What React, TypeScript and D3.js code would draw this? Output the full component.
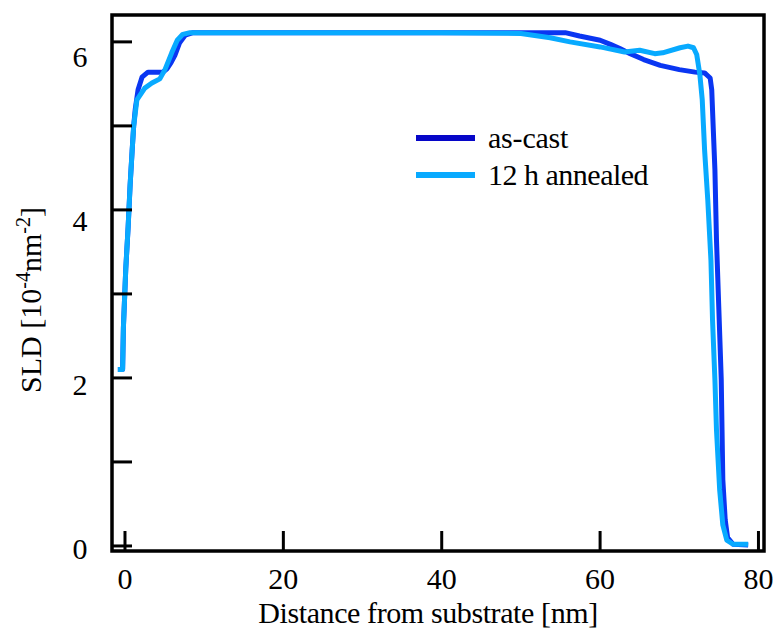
import React from "react";
import * as d3 from "d3";

// Scattering length density profiles, distance from substrate in nm, SLD in 1e-4 nm^-2
const asCastX = [-0.9, -0.3, -0.2, 0.1, 0.4, 0.65, 0.9, 1.1, 1.3, 1.65, 2.15, 2.9, 4.8, 5.3, 5.8, 6.3, 6.9, 7.6, 8.6, 20, 40, 50, 55.6, 57.4, 60.0, 61.3, 62.5, 63.8, 65.5, 67.6, 70.0, 72.0, 73.2, 73.9, 74.1, 74.3, 74.5, 74.7, 75.0, 75.3, 75.4, 75.5, 75.8, 76.1, 76.8, 78.7];
const asCastY = [2.1, 2.1, 2.6, 3.3, 3.8, 4.3, 4.7, 5.0, 5.2, 5.43, 5.58, 5.64, 5.64, 5.68, 5.75, 5.84, 5.99, 6.08, 6.11, 6.11, 6.11, 6.11, 6.11, 6.07, 6.02, 5.97, 5.92, 5.86, 5.79, 5.72, 5.67, 5.64, 5.63, 5.57, 5.43, 4.95, 4.48, 3.64, 2.81, 1.98, 1.38, 0.79, 0.31, 0.10, 0.02, 0.01];

const annealedX = [-0.9, -0.3, -0.2, 0.1, 0.4, 0.65, 0.9, 1.1, 1.5, 2.5, 3.4, 4.4, 5.05, 5.9, 6.6, 7.3, 8.2, 20, 40, 50, 53.7, 56.2, 60.0, 63.1, 65.0, 66.9, 67.9, 70.1, 71.1, 71.8, 72.2, 72.6, 72.9, 73.2, 73.6, 74.0, 74.2, 74.5, 74.7, 75.1, 75.5, 76.0, 76.8, 78.7];
const annealedY = [2.1, 2.1, 2.6, 3.3, 3.8, 4.3, 4.7, 5.0, 5.31, 5.45, 5.51, 5.56, 5.67, 5.87, 6.02, 6.09, 6.11, 6.11, 6.11, 6.10, 6.05, 6.0, 5.94, 5.88, 5.90, 5.86, 5.87, 5.93, 5.95, 5.93, 5.85, 5.61, 5.31, 4.71, 4.12, 3.40, 2.69, 1.98, 1.38, 0.67, 0.25, 0.07, 0.02, 0.02];

const seriesNames = ["as-cast", "12 h annealed"];
const xTicks = [0, 20, 40, 60, 80];
const yTicks = [0, 1, 2, 3, 4, 5, 6];
const yTickLabels = [0, 2, 4, 6];

const W = 774;
const H = 632;
const frame = { left: 112, top: 15, right: 764, bottom: 551 };
const FONT = "'Liberation Serif', 'Times New Roman', serif";
const FS = 30;
const lineColor = "#0a36f2";
const legendDark = "#0606c8";
const lightColor = "#08aaff";

export default function App() {
  const x = d3.scaleLinear().domain([-1.64, 80.7]).range([frame.left, frame.right]);
  const y = d3.scaleLinear().domain([-0.06, 6.32]).range([frame.bottom, frame.top]);
  // baseline positions of the y tick labels
  const yLabel = d3.scaleLinear().domain([0, 6]).range([559, 67]);

  const line = d3
    .line<[number, number]>()
    .x((d) => x(d[0]))
    .y((d) => y(d[1]))
    .curve(d3.curveLinear);

  const asCast: [number, number][] = asCastX.map((v, i) => [v, asCastY[i]]);
  const annealed: [number, number][] = annealedX.map((v, i) => [v, annealedY[i]]);

  const tickLen = 20;

  return (
    <svg
      width={W}
      height={H}
      style={{ position: "absolute", left: 0, top: 0, background: "#fff" }}
      fontFamily={FONT}
    >
      <defs>
        <clipPath id="plotClip">
          <rect x={frame.left} y={frame.top} width={frame.right - frame.left} height={frame.bottom - frame.top} />
        </clipPath>
      </defs>

      {/* curves */}
      <g clipPath="url(#plotClip)">
        <path d={line(asCast) ?? ""} fill="none" stroke={lineColor} strokeWidth={5} strokeLinejoin="round" />
        <path d={line(annealed) ?? ""} fill="none" stroke={lightColor} strokeWidth={5} strokeLinejoin="round" />
      </g>

      {/* ticks */}
      {yTicks.map((t) => (
        <line key={`yt${t}`} x1={frame.left} x2={frame.left + tickLen} y1={y(t)} y2={y(t)} stroke="#000" strokeWidth={3} />
      ))}
      {xTicks.map((t) => (
        <line key={`xt${t}`} x1={x(t)} x2={x(t)} y1={frame.bottom} y2={frame.bottom - tickLen} stroke="#000" strokeWidth={3} />
      ))}

      {/* frame */}
      <rect
        x={frame.left}
        y={frame.top}
        width={frame.right - frame.left}
        height={frame.bottom - frame.top}
        fill="none"
        stroke="#000"
        strokeWidth={3.5}
      />

      {/* tick labels */}
      {yTickLabels.map((t) => (
        <text key={`yl${t}`} x={80} y={yLabel(t)} textAnchor="middle" fontSize={FS} fill="#000">
          {t}
        </text>
      ))}
      {xTicks.map((t) => (
        <text key={`xl${t}`} x={x(t)} y={589} textAnchor="middle" fontSize={FS} fill="#000">
          {t}
        </text>
      ))}

      {/* axis titles */}
      <text x={428} y={623} textAnchor="middle" fontSize={FS} letterSpacing={-0.4} fill="#000">
        Distance from substrate [nm]
      </text>
      <text transform="translate(41,300) rotate(-90)" textAnchor="middle" fontSize={FS} fill="#000">
        SLD [10
        <tspan dy={-11} fontSize={20}>-4</tspan>
        <tspan dy={11}>nm</tspan>
        <tspan dy={-11} fontSize={20}>-2</tspan>
        <tspan dy={11}>]</tspan>
      </text>

      {/* legend */}
      <line x1={416} x2={475} y1={138} y2={138} stroke={legendDark} strokeWidth={6} />
      <text x={488} y={148} fontSize={FS} letterSpacing={-0.2} fill="#000">{seriesNames[0]}</text>
      <line x1={416} x2={475} y1={175} y2={175} stroke={lightColor} strokeWidth={6} />
      <text x={488} y={185} fontSize={FS} letterSpacing={-0.5} fill="#000">{seriesNames[1]}</text>
    </svg>
  );
}
